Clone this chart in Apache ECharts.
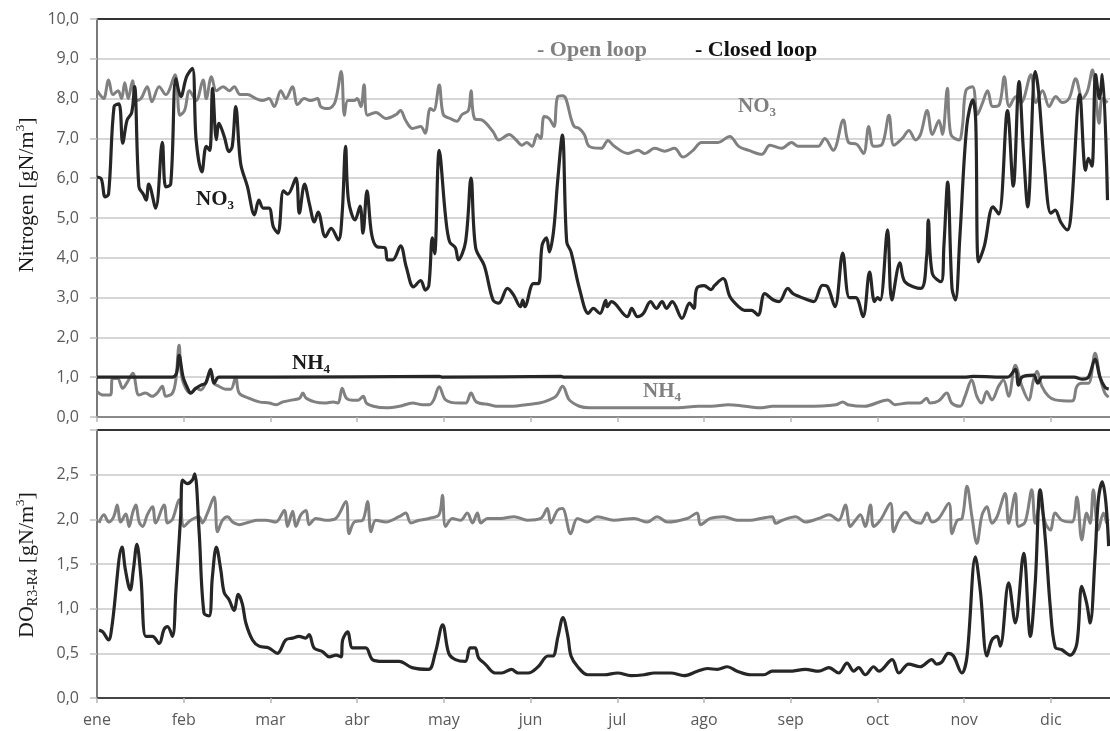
<!DOCTYPE html>
<html><head><meta charset="utf-8">
<script src="https://cdn.jsdelivr.net/npm/echarts@6/dist/echarts.min.js"></script>
<style>html,body{margin:0;padding:0;background:#fff;overflow:hidden}#c{width:1110px;height:731px}</style>
</head><body><div id="c"></div>
<script>
// x in days from start of year (months drawn as 30-day units)
const months = ['ene','feb','mar','abr','may','jun','jul','ago','sep','oct','nov','dic'];
const nitrogenTicks = [0,1,2,3,4,5,6,7,8,9,10];
const doTicks = [0,0.5,1,1.5,2,2.5];

const closedNO3 = [[0,6.03],[1.5,5.98],[2.8,5.53],[4,5.6],[5.9,7.8],[7.6,7.87],[8.9,6.88],[10.4,7.46],[12,7.65],[13,8.3],[14.5,5.78],[16,5.6],[17,5.45],[17.9,5.85],[20.3,5.25],[22.6,6.9],[23.8,5.78],[25.5,5.85],[27.3,8.5],[29,8.05],[31,8.55],[33,8.76],[34.3,6.96],[36.3,6.16],[37.8,6.8],[39,6.7],[40,8.26],[41.3,6.97],[42.2,7.38],[44,7.05],[45.7,6.67],[46.8,6.8],[48,7.8],[49.7,6.37],[52,5.8],[54.5,5.08],[56,5.45],[57.5,5.25],[59.5,5.25],[61,4.78],[62.6,4.62],[64.5,5.68],[66,5.6],[68.8,6.0],[70,5.12],[71.8,5.85],[73.5,5.35],[75.2,4.9],[76.5,5.15],[79,4.53],[81,4.74],[83.5,4.45],[84.8,5.1],[86,6.8],[87,5.45],[89.3,4.95],[91,5.3],[92,4.62],[93.4,5.68],[95,4.6],[96.8,4.28],[99.6,4.25],[100.5,3.95],[102.3,3.95],[105,4.3],[107,3.77],[109.5,3.27],[112,3.43],[113.6,3.19],[114.8,3.3],[116,4.5],[116.8,4.1],[118.4,6.7],[120.6,5.03],[122,4.4],[124,4.25],[125,3.95],[127.5,4.4],[129.4,6.0],[131,4.25],[134,3.8],[137,2.94],[139,2.86],[142,3.23],[144,3.08],[146.5,2.77],[147.3,2.94],[148,2.77],[151,3.35],[152.7,3.35],[154,4.32],[155.5,4.5],[156.5,4.15],[158,4.7],[159.3,5.87],[161,7.08],[162.5,4.4],[164,4.15],[167,3.2],[170,2.6],[171.7,2.73],[174,2.6],[176,2.93],[176.5,2.77],[178,2.9],[183.5,2.52],[185,2.73],[187,2.52],[189,2.6],[191.5,2.9],[193.5,2.73],[195.5,2.9],[197,2.73],[199,2.9],[202.4,2.48],[205,2.86],[206.5,2.73],[207.5,3.23],[210,3.3],[212.5,3.2],[213.6,3.3],[216.6,3.48],[219,3.02],[222,2.77],[224,2.68],[226.5,2.68],[228.7,2.56],[231,3.1],[234,2.94],[236,2.9],[239,3.23],[240.8,3.1],[246,2.94],[248,2.9],[251,3.31],[252.8,3.27],[255.3,2.77],[258,4.12],[260.3,3.0],[262.5,3.0],[265,2.52],[267.3,3.64],[269,2.9],[270,3.0],[271,2.94],[273.5,4.7],[275,2.94],[277.8,3.87],[279.5,3.4],[285,3.23],[287,4.0],[287.6,4.95],[289,3.6],[292,3.4],[293,4.3],[294.3,5.9],[295.8,3.23],[297,2.94],[298.5,4.5],[300.9,7.3],[303,7.97],[304,7.45],[305,3.9],[307,4.3],[310,5.28],[312,5.1],[315,7.7],[317,5.8],[319,8.43],[320.5,6.7],[322,5.28],[324.6,8.68],[325.7,8.2],[327.8,6.3],[330,5.12],[331.5,5.2],[333.4,4.9],[335.7,4.7],[337,5.12],[340,8.1],[342,6.2],[343,6.5],[344.2,6.3],[345.5,8.6],[346.8,8.0],[347.8,8.6],[349.6,5.45]];

const openNO3 = [[0,8.2],[1,8.1],[2.3,8.0],[4,8.47],[5.5,8.1],[7.3,8.2],[8.5,8.0],[9.6,8.4],[10.8,8.0],[12.3,8.45],[13.4,7.95],[15.2,8.0],[17.4,8.3],[19,7.92],[21.5,8.3],[23.8,8.1],[27,8.6],[28.7,7.58],[30.3,7.7],[32,8.2],[34.3,7.95],[36.7,8.47],[37.8,8.0],[39.6,8.55],[41.3,8.2],[43.6,8.3],[45.8,8.2],[47.5,8.3],[49.5,8.1],[52,8.1],[55,8.0],[57.3,7.95],[59.5,8.0],[61.3,7.8],[63.6,8.2],[65.3,8.0],[67.6,8.3],[69.4,7.85],[71.7,8.0],[74,7.95],[76.3,8.0],[77.4,7.8],[80,7.75],[82.3,7.9],[84.5,8.68],[85.6,7.58],[86.8,7.95],[89,7.95],[90,8.0],[91.3,7.8],[92.4,8.35],[93.6,7.58],[96.5,7.65],[100,7.5],[103.5,7.6],[105,7.7],[106.8,7.45],[109.2,7.25],[112,7.3],[113.5,7.13],[115.3,7.75],[116.5,7.7],[118.4,8.34],[119.8,7.6],[122.2,7.5],[124.5,7.43],[126.3,7.6],[128.5,7.7],[129.4,8.2],[130.6,7.5],[133.5,7.45],[137,7.17],[139,6.96],[142.6,7.1],[145,6.96],[147,6.83],[148.7,6.9],[150.5,6.8],[152.3,7.1],[153.5,7.0],[154.7,7.55],[156.4,7.5],[158.1,7.3],[159.3,8.04],[161,8.07],[162.2,8.0],[164,7.5],[165.1,7.3],[166.8,7.25],[168.6,7.1],[170.3,6.8],[174.4,6.75],[176.1,6.9],[176.7,6.95],[179,6.8],[183.7,6.62],[187.2,6.7],[189.5,6.62],[192.9,6.75],[196.4,6.68],[199.8,6.75],[202.7,6.53],[206.2,6.7],[209.1,6.9],[212,6.9],[214.9,6.9],[218.9,7.05],[222,6.8],[225.5,6.7],[230,6.6],[232.8,6.83],[236.8,6.75],[240.3,6.9],[242.6,6.8],[246,6.8],[249.5,6.8],[251.8,7.0],[254.7,6.7],[258.2,7.46],[260,6.9],[262.9,6.85],[265.2,6.62],[267,7.3],[268.7,6.8],[271.6,6.85],[274,7.58],[275.7,6.83],[278.6,7.0],[280.9,7.2],[283.2,6.96],[284.9,7.1],[287.2,7.7],[289,7.1],[291.3,7.45],[292.5,7.1],[294.2,8.26],[295.4,7.1],[298.2,6.96],[299.4,7.3],[300.6,8.2],[302.9,8.3],[304.6,7.6],[306.4,7.9],[308.1,8.2],[309.9,7.8],[312.2,7.85],[313.9,8.55],[315.6,7.8],[318,8.05],[319.7,7.9],[323.1,8.6],[324.8,7.9],[327.1,8.2],[329.4,7.8],[331.7,8.05],[334,7.9],[336.3,8.0],[338.6,8.5],[340.9,8.0],[342.7,8.2],[344.4,8.72],[345.5,8.1],[346.7,7.38],[347.8,8.0],[349.6,7.9]];

const openNH4 = [[0,0.64],[2.3,0.55],[4.6,0.55],[5.4,0.97],[7.1,0.97],[8.9,0.72],[10.6,0.89],[12.4,1.1],[14.5,0.55],[16.8,0.6],[19.1,0.52],[20.8,0.6],[22.6,0.77],[23.8,0.52],[26.1,0.6],[27.3,0.95],[28.4,1.8],[29.5,0.95],[32.4,0.6],[34.2,0.72],[35.9,0.68],[37.6,0.85],[39.3,1.15],[40.5,0.85],[42.2,0.77],[44.5,0.7],[46.3,0.7],[48,1.0],[49.2,0.6],[52.7,0.47],[56.1,0.38],[59.6,0.35],[62,0.31],[64.3,0.38],[67.8,0.43],[70.1,0.47],[71.2,0.6],[72.4,0.47],[75.3,0.38],[78.8,0.35],[81.7,0.38],[83.4,0.35],[84.8,0.72],[86.3,0.47],[88.6,0.42],[90.3,0.42],[92.1,0.52],[93.2,0.35],[95.6,0.27],[100,0.23],[104.7,0.27],[109.2,0.35],[112.6,0.31],[115,0.31],[116.5,0.43],[118.4,0.76],[120.6,0.43],[125.3,0.35],[127.6,0.35],[129.4,0.6],[131.2,0.38],[135.8,0.31],[138.1,0.27],[143.9,0.27],[148.5,0.31],[153.1,0.35],[156.5,0.43],[158.8,0.52],[161.1,0.77],[163.4,0.43],[166.9,0.27],[170.3,0.23],[178,0.23],[189.5,0.23],[201,0.23],[208,0.27],[212.6,0.27],[218.4,0.31],[224.2,0.27],[230,0.23],[233.7,0.27],[245.3,0.27],[255.7,0.31],[258,0.38],[259.8,0.31],[265.5,0.27],[273.6,0.43],[276,0.31],[280.6,0.35],[284.7,0.35],[287,0.47],[288.2,0.35],[291.1,0.4],[294,0.6],[295.7,0.35],[298.6,0.27],[300.3,0.52],[302.6,0.93],[304.4,0.52],[306.1,0.35],[307.8,0.64],[309.6,0.43],[311.9,0.77],[313.6,0.93],[315.4,0.52],[317.7,1.3],[320,0.77],[322.3,0.43],[324,0.93],[325.2,1.15],[326.9,0.77],[329.2,0.52],[331.5,0.43],[337.3,0.4],[339,0.77],[340.7,0.85],[343,0.85],[345.3,1.6],[347,1.0],[348.7,0.6],[350,0.5]];

const closedNH4 = [[0,1.0],[26,1.0],[27.5,1.1],[28.4,1.55],[29.8,1.0],[31.5,0.7],[32.4,0.6],[34.2,0.72],[36,0.8],[37.6,0.85],[39.3,1.2],[40.5,0.85],[42.2,1.0],[60,1.0],[118.4,1.02],[119.5,1.0],[160.5,1.02],[161.5,1.0],[300,1.0],[303.1,1.02],[315,1.0],[317.7,1.2],[318.8,0.8],[320,1.0],[324,1.05],[325.5,0.85],[327,1.0],[338,1.0],[341,0.95],[343,1.0],[345.3,1.45],[347,1.0],[348.7,0.75],[350,0.7]];

const closedDO = [[0.7,0.76],[2,0.74],[4,0.65],[5.2,0.81],[8.7,1.69],[9.8,1.44],[11.5,1.21],[12.6,1.44],[13.8,1.72],[15.2,1.35],[16.9,0.69],[19.2,0.69],[21.5,0.61],[23.2,0.77],[24.4,0.8],[26.1,0.69],[27.3,1.2],[29,2.07],[29.6,2.44],[31.3,2.4],[33,2.44],[33.8,2.51],[35.3,1.88],[37,0.95],[38.8,0.92],[39.9,1.35],[41.3,1.69],[42.8,1.44],[44,1.18],[45.7,1.1],[47.4,0.98],[48.9,1.16],[50.3,1.05],[51.5,0.84],[53.8,0.65],[56.1,0.58],[59.5,0.56],[62.4,0.5],[65.3,0.65],[67.6,0.67],[69.9,0.69],[72.2,0.67],[73.4,0.71],[75.1,0.56],[78,0.52],[80.4,0.46],[82.7,0.48],[84.4,0.46],[85,0.65],[86.7,0.74],[88.4,0.56],[90.7,0.56],[93,0.56],[95.3,0.43],[98.8,0.41],[104.5,0.41],[109,0.34],[114.7,0.32],[117,0.5],[119.6,0.82],[121.7,0.5],[124,0.43],[127.4,0.41],[129.1,0.56],[130.8,0.56],[132,0.45],[134.3,0.38],[137.7,0.28],[140,0.28],[143.4,0.32],[145.7,0.28],[149.2,0.28],[152.6,0.35],[156,0.47],[157.7,0.47],[159.5,0.69],[161.2,0.9],[162.9,0.69],[164,0.47],[166.3,0.35],[169.8,0.26],[175.5,0.26],[180.1,0.28],[184.7,0.25],[189.3,0.26],[192.8,0.28],[198.5,0.28],[203.1,0.25],[207.7,0.3],[211.2,0.33],[214.6,0.32],[218.1,0.35],[221.5,0.3],[226.1,0.26],[230.7,0.26],[233.6,0.3],[239.4,0.3],[245.1,0.32],[249.7,0.3],[253.2,0.34],[256.6,0.28],[259.5,0.39],[261.8,0.3],[263.5,0.34],[265.8,0.26],[268.7,0.35],[270.5,0.3],[275.1,0.43],[277.4,0.28],[280.8,0.38],[284.8,0.35],[288.8,0.43],[290.5,0.38],[292.2,0.4],[294.5,0.5],[296.3,0.47],[299.2,0.28],[301,0.47],[303.9,1.58],[305.6,1.2],[307.9,0.47],[309.6,0.65],[311.4,0.69],[312.5,0.58],[315.4,1.29],[317.7,0.84],[320.6,1.62],[322.9,0.69],[324.6,1.29],[326.3,2.33],[328.1,1.77],[329.8,1.02],[331.5,0.57],[333.8,0.54],[336.7,0.48],[339,0.61],[340.7,1.25],[342.4,1.06],[343.6,0.84],[345.3,1.58],[346.4,2.21],[347.8,2.42],[349,2.2],[350,1.7]];

const openDO = [[0.7,1.96],[2.4,2.05],[4.1,1.97],[5.8,2.03],[7,2.16],[8.2,1.97],[10,2.06],[11.1,1.92],[12.3,2.07],[13.4,2.16],[14.6,1.97],[15.8,1.92],[17.4,2.05],[19.2,2.14],[20.3,1.96],[23.2,2.16],[24.4,1.96],[26.1,2.0],[28.4,2.22],[30.1,1.92],[32.4,1.99],[35.3,2.03],[36.5,1.96],[38.2,2.07],[40.5,2.25],[41.7,1.86],[43.4,1.99],[45.2,2.03],[46.9,1.97],[49.2,1.94],[52.7,1.97],[55.5,1.99],[58.4,1.99],[61.9,1.97],[64.8,2.1],[65.9,1.92],[67.7,2.09],[68.8,1.92],[70.5,2.05],[72.3,2.1],[73.4,1.94],[75.7,2.01],[79.2,1.99],[82.6,2.01],[86.1,2.2],[87.2,1.84],[89,1.97],[91.9,1.99],[93.6,2.2],[94.8,1.86],[96.5,1.99],[99.9,1.97],[104.5,2.03],[106.8,2.07],[108.6,1.96],[111.4,1.99],[114.9,2.01],[118.3,2.05],[119.5,2.27],[120.6,1.92],[122.9,2.01],[125.8,1.99],[128.1,2.07],[129.9,1.96],[131.6,2.07],[132.8,1.96],[135.1,2.01],[139.7,2.01],[144.3,2.03],[148.9,1.99],[153.5,2.01],[155.8,2.12],[157,1.96],[159.3,2.1],[161,2.12],[163.9,1.84],[166.2,2.01],[169.6,1.97],[173.1,2.03],[178.8,1.99],[185.8,2.01],[190.4,1.97],[193.8,2.03],[197.3,1.97],[204.2,2.01],[207.6,2.07],[208.8,1.94],[212.2,2.01],[216.8,2.03],[221.5,1.99],[226.1,1.99],[229.6,2.01],[233.6,2.03],[234.8,1.955],[237.1,1.99],[241.7,2.03],[245.1,1.97],[249.7,2.01],[253.2,2.05],[256.6,1.99],[258.9,2.16],[260.6,1.92],[262.4,1.99],[264.1,2.05],[265.8,1.92],[267.6,2.16],[268.7,1.92],[271,1.99],[274.5,2.18],[275.6,1.86],[277.4,1.99],[279.7,2.08],[282,1.99],[284.9,1.955],[287.2,2.07],[288.9,1.97],[291.2,2.01],[294.7,2.18],[295.8,1.84],[297.6,1.99],[299.3,2.01],[301,2.37],[302.7,2.03],[304.4,1.73],[306.2,2.05],[307.9,2.14],[309.6,1.955],[311.4,2.03],[314.2,2.29],[315.4,1.955],[317.7,2.29],[318.8,1.92],[321.1,1.97],[323.4,2.33],[324.6,1.955],[326.3,2.18],[328.1,1.955],[329.8,1.88],[331.5,2.07],[333.8,1.99],[337.3,1.97],[339,2.25],[340.7,1.77],[342.4,2.07],[343.6,1.955],[344.7,2.33],[346.4,1.88],[348.2,2.07],[349.3,1.955]];

const chart = echarts.init(document.getElementById('c'), null, {renderer:'canvas'});
const serif = '"Liberation Serif","Times New Roman",serif';
const sans = '"Open Sans",sans-serif';
const GRAY = '#808080', BLACK = '#262626', TICK = '#595959';
const X_MAX = 351.5;
const fmt = v => v.toFixed(1).replace('.', ',');

function line(name, data, color, idx, width) {
  return {name, type:'line', data, xAxisIndex:idx, yAxisIndex:idx, symbol:'none', smooth:0.35,
    lineStyle:{color, width}, itemStyle:{color}, z: color === BLACK ? 4 : 3, animation:false};
}
function xAxis(i) {
  return {gridIndex:i, type:'value', min:0, max:X_MAX, interval:30,
    axisLine:{show:true, onZero:false, lineStyle:{color: i ? '#454545' : '#8a8a8a', width:2}},
    axisTick:{show:true, length:5, lineStyle:{color:'#b5b5b5', width:1.5}},
    splitLine:{show:false},
    axisLabel:{show: i === 1, color:TICK, fontFamily:sans, fontSize:16, margin:14,
      formatter: v => (v % 30 === 0 && v / 30 < months.length) ? months[v / 30] : ''}};
}
function yAxis(i, max, interval, ticks) {
  return {gridIndex:i, type:'value', min:0, max, interval,
    axisLine:{show:true, lineStyle:{color:'#7a7a7a', width:2}},
    axisTick:{show:true, length:7, lineStyle:{color:'#c0c0c0', width:1.5}},
    splitLine:{show:true, showMaxLine:false, lineStyle:{color:'#c8c8c8', width:1.5}},
    axisLabel:{color:TICK, fontFamily:sans, fontSize:16, margin:18,
      formatter: v => ticks.some(t => Math.abs(t - v) < 1e-9) ? fmt(v) : ''}};
}

const richBase = (color, size, bold) => ({
  a:{fill:color, fontFamily:serif, fontSize:size, fontWeight:bold ? 'bold' : 'normal', lineHeight:size + 4},
  sub:{fill:color, fontFamily:serif, fontSize:Math.round(size * 0.62), fontWeight:bold ? 'bold' : 'normal', lineHeight:Math.round(size * 0.62), verticalAlign:'bottom'},
  sup:{fill:color, fontFamily:serif, fontSize:Math.round(size * 0.6), lineHeight:Math.round(size * 0.6), verticalAlign:'top'}
});
function label(text, x, y, color, size, bold, rot) {
  return {type:'text', x, y, rotation: rot || 0, z:10,
    style:{text, align: rot ? 'center' : 'left', verticalAlign:'middle', rich: richBase(color, size, bold)}};
}

chart.setOption({
  animation:false,
  backgroundColor:'#ffffff',
  grid:[
    {left:97, width:1016, top:19, height:398, outerBoundsMode:'none', containLabel:false, show:true, borderColor:'#333333', borderWidth:2, backgroundColor:'transparent'},
    {left:97, width:1016, top:430, height:268, outerBoundsMode:'none', containLabel:false, show:true, borderColor:'#333333', borderWidth:2, backgroundColor:'transparent'}
  ],
  xAxis:[xAxis(0), xAxis(1)],
  yAxis:[yAxis(0, 10, 1, nitrogenTicks), yAxis(1, 3, 0.5, doTicks)],
  series:[
    line('Open loop NO3', openNO3, GRAY, 0, 3),
    line('Open loop NH4', openNH4, GRAY, 0, 3),
    line('Closed loop NO3', closedNO3, BLACK, 0, 3.2),
    line('Closed loop NH4', closedNH4, BLACK, 0, 3.2),
    line('Open loop DO', openDO, GRAY, 1, 3),
    line('Closed loop DO', closedDO, BLACK, 1, 3.2)
  ],
  graphic:[
    label('{a|Nitrogen [gN/m}{sup|3}{a|]}', 27, 195, '#1a1a1a', 22, false, Math.PI / 2),
    label('{a|DO}{sub|R3-R4}{a| [gN/m}{sup|3}{a|]}', 27, 565, '#1a1a1a', 22, false, Math.PI / 2),
    label('{a|- Open loop}', 537, 50, GRAY, 22, true),
    label('{a|- Closed loop}', 695, 50, '#111111', 22, true),
    label('{a|NO}{sub|3}', 196, 200, '#1a1a1a', 21, true),
    label('{a|NO}{sub|3}', 738, 107, GRAY, 21, true),
    label('{a|NH}{sub|4}', 292, 364, '#1a1a1a', 21, true),
    label('{a|NH}{sub|4}', 643, 392, GRAY, 21, true)
  ]
});
</script>
</body></html>
